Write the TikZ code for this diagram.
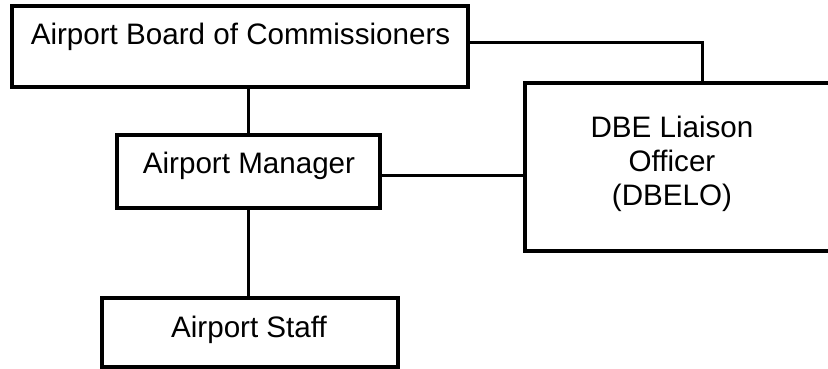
\documentclass[tikz,border=0pt]{standalone}
\usepackage{fontspec}
\setmainfont{Liberation Sans}
\begin{document}
\begin{tikzpicture}[x=1pt,y=-1pt,
  box/.style={draw=black,line width=3.2pt,rectangle,inner sep=0pt,outer sep=0pt},
  lbl/.style={inner sep=0pt,outer sep=0pt,font=\fontsize{29.6}{35}\selectfont,anchor=base},
  conn/.style={draw=black,line width=3pt}]
\useasboundingbox (0,0) rectangle (828,369);
\clip (0,0) rectangle (828,369);
\node[box,minimum width=456pt,minimum height=81pt] (board) at (240,46.5) {};
\node[box,minimum width=263pt,minimum height=73pt] (mgr) at (248.5,171.5) {};
\node[box,minimum width=296pt,minimum height=69pt] (staff) at (250,332.5) {};
\node[box,minimum width=335pt,minimum height=168pt] (dbe) at (692.5,167) {};
\node[lbl] (tboard) at (240.5,45) {Airport Board of Commissioners};
\node[lbl] (tmgr) at (249,173) {Airport Manager};
\node[lbl] (tstaff) at (249,337) {Airport Staff};
\node[lbl] (tdbe1) at (672,137) {DBE Liaison};
\node[lbl] (tdbe2) at (672,171) {Officer};
\node[lbl] (tdbe3) at (672,205) {(DBELO)};
\draw[conn] ([yshift=3.5pt]board.east) -| ([xshift=9.5pt]dbe.north);
\draw[conn] (mgr.north) -- (mgr.north |- board.south);
\draw[conn] (mgr.south) -- (mgr.south |- staff.north);
\draw[conn] ([yshift=-3.5pt]mgr.east) -- ([yshift=-3.5pt]mgr.east -| dbe.west);
\end{tikzpicture}
\end{document}
